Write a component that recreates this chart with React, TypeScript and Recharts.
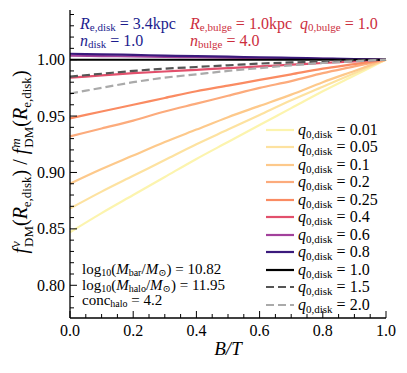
import React from "react";
import { LineChart, Line, XAxis, YAxis } from "recharts";

// B/T sample points and the ratio
const bulgeToTotal = [0, 0.1, 0.2, 0.3, 0.4, 0.5, 0.6, 0.7, 0.8, 0.9, 1.0];
const q001 = [0.847, 0.864, 0.88, 0.896, 0.912, 0.927, 0.942, 0.957, 0.972, 0.986, 1.0];
const q005 = [0.868, 0.883, 0.897, 0.911, 0.925, 0.938, 0.951, 0.964, 0.976, 0.988, 1.0];
const q01 = [0.89, 0.903, 0.915, 0.927, 0.938, 0.949, 0.959, 0.969, 0.98, 0.99, 1.0];
const q02 = [0.932, 0.939, 0.946, 0.954, 0.961, 0.968, 0.975, 0.981, 0.988, 0.994, 1.0];
const q025 = [0.948, 0.954, 0.96, 0.966, 0.972, 0.977, 0.982, 0.987, 0.992, 0.996, 1.0];
const q04 = [0.984, 0.986, 0.988, 0.9895, 0.991, 0.9925, 0.994, 0.9955, 0.997, 0.9985, 1.0];
const q06 = [1.0035, 1.0032, 1.0028, 1.0025, 1.0021, 1.0018, 1.0014, 1.0011, 1.0007, 1.0004, 1.0];
const q08 = [1.0052, 1.0047, 1.0042, 1.0036, 1.0031, 1.0026, 1.0021, 1.0016, 1.001, 1.0005, 1.0];
const q10 = [1.0, 1.0, 1.0, 1.0, 1.0, 1.0, 1.0, 1.0, 1.0, 1.0, 1.0];
const q15 = [0.985, 0.9875, 0.99, 0.992, 0.9935, 0.995, 0.9965, 0.9975, 0.9985, 0.9993, 1.0];
const q20 = [0.97, 0.975, 0.98, 0.984, 0.987, 0.99, 0.9925, 0.995, 0.997, 0.9985, 1.0];

const qLabels = ["0.01", "0.05", "0.1", "0.2", "0.25", "0.4", "0.6", "0.8", "1.0", "1.5", "2.0"];
const seriesValues = [q001, q005, q01, q02, q025, q04, q06, q08, q10, q15, q20];

const xTicks = [0, 0.05, 0.1, 0.15, 0.2, 0.25, 0.3, 0.35, 0.4, 0.45, 0.5, 0.55, 0.6, 0.65, 0.7, 0.75, 0.8, 0.85, 0.9, 0.95, 1.0];
const yTicks = [
  0.78, 0.79, 0.8, 0.81, 0.82, 0.83, 0.84, 0.85, 0.86, 0.87, 0.88, 0.89, 0.9, 0.91, 0.92, 0.93, 0.94,
  0.95, 0.96, 0.97, 0.98, 0.99, 1.0, 1.01, 1.02, 1.03, 1.04,
];

// styles
const COLORS = ["#fcf4ae", "#fde2a0", "#fdc98b", "#fcab7c", "#fa8b62", "#e2506c", "#a2419b", "#3b1a7c", "#000000", "#555555", "#aaaaaa"];
const DASHES = ["", "", "", "", "", "", "", "", "", "8 4", "8 4"];
const FONT = "'Liberation Serif', 'DejaVu Serif', serif";

const data = bulgeToTotal.map((bt, i) => {
  const row: Record<string, number> = { bt };
  seriesValues.forEach((s, k) => (row["q" + k] = s[i]));
  return row;
});

const isMajor = (v: number, step: number) => Math.abs(v / step - Math.round(v / step)) < 1e-6;

const BottomTick = (props: any) => {
  const { x, y, payload } = props;
  const major = isMajor(payload.value, 0.2);
  return (
    <g>
      <line x1={x} x2={x} y1={y} y2={y - (major ? 7 : 4)} stroke="#000" />
      {major && (
        <text x={x} y={y + 18} textAnchor="middle" fontSize={16} fontFamily={FONT} fill="#000">
          {payload.value.toFixed(1)}
        </text>
      )}
    </g>
  );
};

const TopTick = (props: any) => {
  const { x, y, payload } = props;
  const major = isMajor(payload.value, 0.2);
  return <line x1={x} x2={x} y1={y} y2={y + (major ? 7 : 4)} stroke="#000" />;
};

const LeftTick = (props: any) => {
  const { x, y, payload } = props;
  const major = isMajor(payload.value, 0.05);
  return (
    <g>
      <line x1={x} x2={x + (major ? 7 : 4)} y1={y} y2={y} stroke="#000" />
      {major && (
        <text x={x - 5} y={y + 5.5} textAnchor="end" fontSize={16} fontFamily={FONT} fill="#000">
          {payload.value.toFixed(2)}
        </text>
      )}
    </g>
  );
};

const RightTick = (props: any) => {
  const { x, y, payload } = props;
  const major = isMajor(payload.value, 0.05);
  return <line x1={x} x2={x - (major ? 7 : 4)} y1={y} y2={y} stroke="#000" />;
};

const Sub = ({ children, size = 11, drop = "-0.3em" }: { children: React.ReactNode; size?: number; drop?: string }) => (
  <span style={{ fontSize: size, verticalAlign: drop, lineHeight: 0 }}>{children}</span>
);

const I = ({ children }: { children: React.ReactNode }) => <span style={{ fontStyle: "italic" }}>{children}</span>;

const Stack = ({ top, bottom }: { top: string; bottom: string }) => (
  <span
    style={{
      display: "inline-flex",
      flexDirection: "column",
      fontSize: 13,
      lineHeight: "13px",
      verticalAlign: "middle",
      marginLeft: 1,
    }}
  >
    <span style={{ fontStyle: "italic" }}>{top}</span>
    <span>{bottom}</span>
  </span>
);

export default function App() {
  return (
    <div style={{ position: "absolute", left: 0, top: 0, width: 407, height: 373, background: "#fff", fontFamily: FONT }}>
      <LineChart width={407} height={373} data={data} margin={{ top: 10, right: 21, left: 0, bottom: 0 }}>
        <XAxis
          dataKey="bt"
          type="number"
          domain={[0, 1]}
          ticks={xTicks}
          interval={0}
          height={55}
          tickSize={0}
          tickMargin={0}
          tickLine={false}
          tick={<BottomTick />}
          axisLine={{ stroke: "#000", strokeWidth: 1.3 }}
        />
        <XAxis
          xAxisId="top"
          orientation="top"
          dataKey="bt"
          type="number"
          domain={[0, 1]}
          ticks={xTicks}
          interval={0}
          height={0}
          tickSize={0}
          tickMargin={0}
          tickLine={false}
          tick={<TopTick />}
          axisLine={{ stroke: "#000", strokeWidth: 1.3 }}
        />
        <YAxis
          type="number"
          domain={[0.771, 1.044]}
          allowDataOverflow
          ticks={yTicks}
          interval={0}
          width={70}
          tickSize={0}
          tickMargin={0}
          tickLine={false}
          tick={<LeftTick />}
          axisLine={{ stroke: "#000", strokeWidth: 1.3 }}
        />
        <YAxis
          yAxisId="right"
          orientation="right"
          type="number"
          domain={[0.771, 1.044]}
          allowDataOverflow
          ticks={yTicks}
          interval={0}
          width={0}
          tickSize={0}
          tickMargin={0}
          tickLine={false}
          tick={<RightTick />}
          axisLine={{ stroke: "#000", strokeWidth: 1.3 }}
        />
        {qLabels.map((q, k) => (
          <Line
            key={q}
            dataKey={"q" + k}
            type="monotone"
            stroke={COLORS[k]}
            strokeWidth={k === 8 ? 2 : 2.2}
            strokeDasharray={DASHES[k] || undefined}
            dot={false}
            isAnimationActive={false}
          />
        ))}
      </LineChart>

      {/* annotations */}
      <div style={{ position: "absolute", left: 80, top: 15, fontSize: 16, lineHeight: "17px", color: "#1c1c8e", whiteSpace: "nowrap" }}>
        <div>
          <I>R</I>
          <Sub drop="-0.15em">e,disk</Sub> = 3.4kpc
        </div>
        <div>
          <I>n</I>
          <Sub drop="-0.15em">disk</Sub> = 1.0
        </div>
      </div>
      <div style={{ position: "absolute", left: 190, top: 15, fontSize: 16, lineHeight: "17px", color: "#cc2e3d", whiteSpace: "nowrap" }}>
        <div>
          <I>R</I>
          <Sub drop="-0.15em">e,bulge</Sub> = 1.0kpc&nbsp;&nbsp;<I>q</I>
          <Sub drop="-0.15em">0,bulge</Sub> = 1.0
        </div>
        <div>
          <I>n</I>
          <Sub drop="-0.15em">bulge</Sub> = 4.0
        </div>
      </div>
      <div style={{ position: "absolute", left: 82, top: 262, fontSize: 15, lineHeight: "15.5px", color: "#000", whiteSpace: "nowrap" }}>
        <div>
          log<Sub size={10} drop="-0.15em">10</Sub>(<I>M</I>
          <Sub size={10} drop="-0.15em">bar</Sub>/<I>M</I>
          <Sub size={10} drop="-0.15em">⊙</Sub>) = 10.82
        </div>
        <div>
          log<Sub size={10} drop="-0.15em">10</Sub>(<I>M</I>
          <Sub size={10} drop="-0.15em">halo</Sub>/<I>M</I>
          <Sub size={10} drop="-0.15em">⊙</Sub>) = 11.95
        </div>
        <div>
          conc<Sub size={10} drop="-0.15em">halo</Sub> = 4.2
        </div>
      </div>

      {/* legend */}
      <div style={{ position: "absolute", left: 266, top: 121, fontSize: 16, color: "#000" }}>
        {qLabels.map((q, k) => (
          <div key={q} style={{ display: "flex", alignItems: "center", height: 17.5, whiteSpace: "nowrap" }}>
            <svg width={28} height={6} style={{ marginRight: 4 }}>
              <line x1={0} x2={28} y1={3} y2={3} stroke={COLORS[k]} strokeWidth={2.2} strokeDasharray={DASHES[k] || undefined} />
            </svg>
            <span>
              <I>q</I>
              <Sub>0,disk</Sub> = {q}
            </span>
          </div>
        ))}
      </div>

      {/* axis labels */}
      <div style={{ position: "absolute", left: 0, top: 338, width: 456, textAlign: "center", fontSize: 19, fontStyle: "italic" }}>
        B/T
      </div>
      <div
        style={{
          position: "absolute",
          left: 22,
          top: 162,
          transform: "translate(-50%, -50%) rotate(-90deg)",
          fontSize: 20,
          whiteSpace: "nowrap",
        }}
      >
        <I>f</I>
        <Stack top="v" bottom="DM" />(<I>R</I>
        <Sub size={13}>e,disk</Sub>) / <I>f</I>
        <Stack top="m" bottom="DM" />(<I>R</I>
        <Sub size={13}>e,disk</Sub>)
      </div>
    </div>
  );
}
